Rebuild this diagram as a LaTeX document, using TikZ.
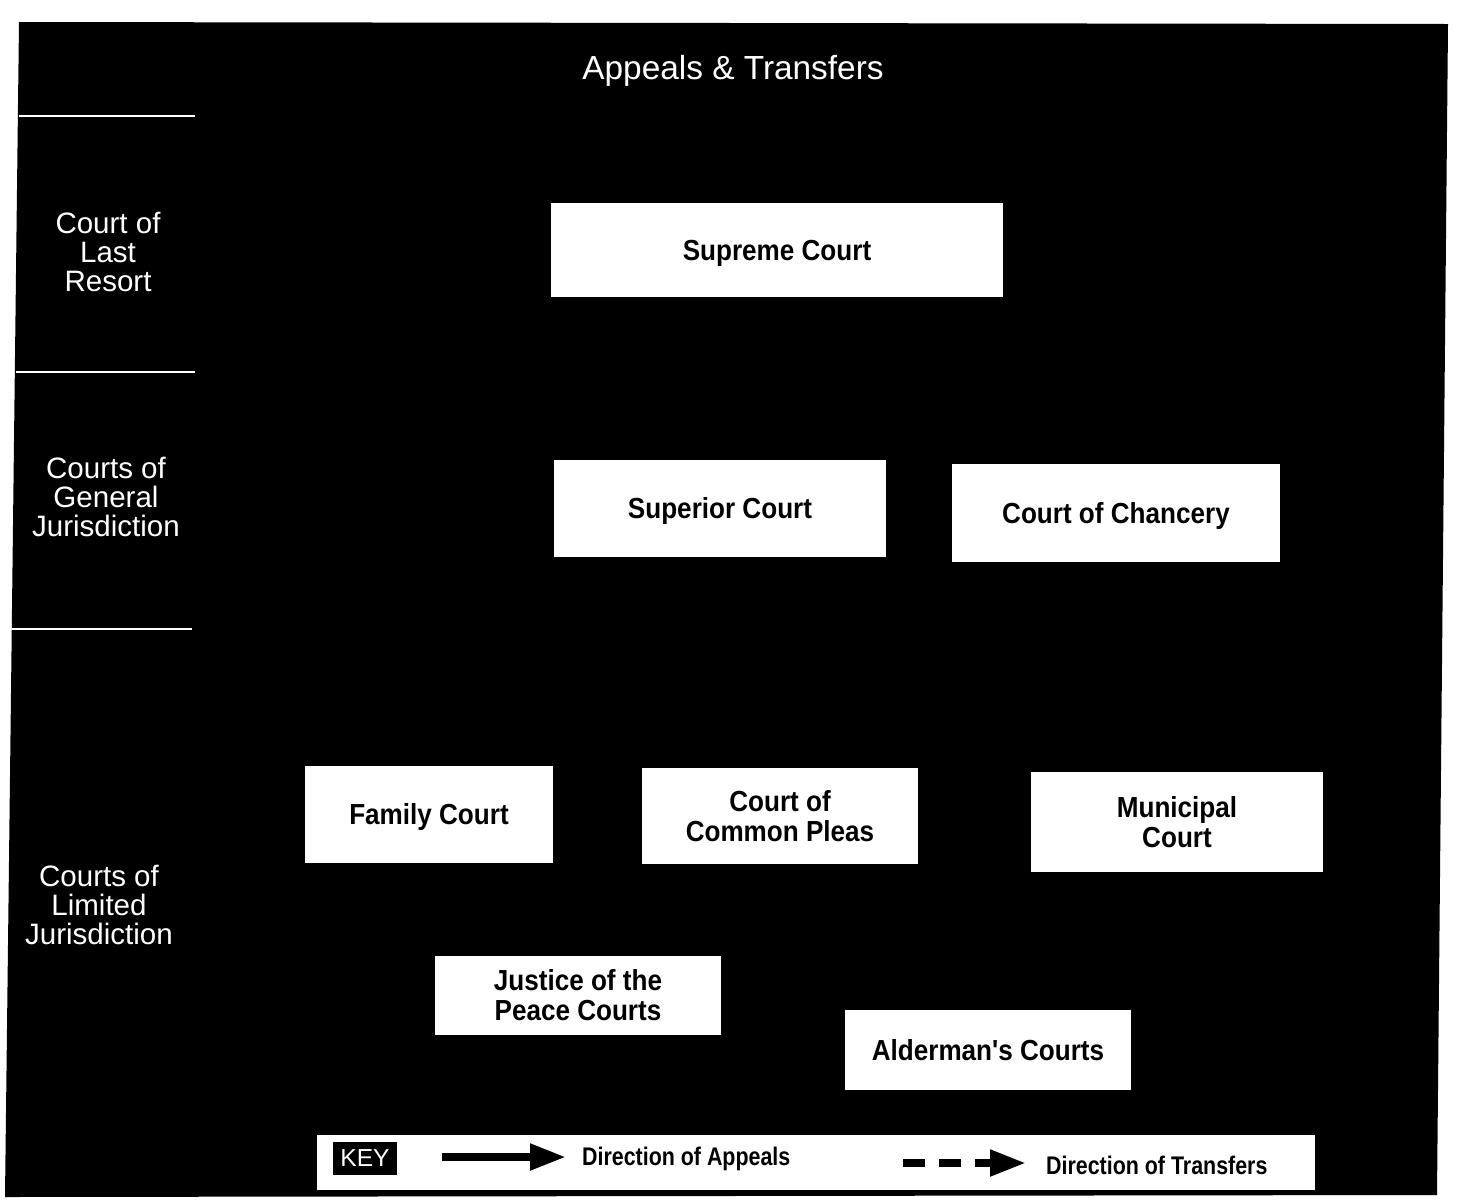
\documentclass[tikz,border=0pt]{standalone}
\usepackage{fontspec}
\setmainfont{Liberation Sans}
\newfontfamily\courtfont[FakeStretch=0.9]{Liberation Sans}
\newfontfamily\keyfont[FakeStretch=0.84]{Liberation Sans}
\usetikzlibrary{arrows.meta, positioning, calc}

\tikzset{
  court/.style={fill=white, rectangle, inner sep=2pt, align=center,
    font=\courtfont\fontsize{16.5}{17}\selectfont\bfseries},
  oneline/.style={text depth=0pt},
  tier/.style={text=white, align=center, font=\fontsize{16.8}{16.5}\selectfont},
  keytext/.style={anchor=west, font=\keyfont\fontsize{14.5}{16}\selectfont\bfseries}
}

\begin{document}
\begin{tikzpicture}[x=0.02cm, y=-0.02cm]
    \useasboundingbox (0,0) rectangle (1457,1201);
    % Background
    \fill[black] (19,22) -- (1448,24) -- (1437,1195) -- (5,1197) -- cycle;

    % Title
    \node[text=white, font=\fontsize{19}{21}\selectfont] (title) at (733,71) {Appeals \& Transfers};

    % Tier labels
    \node[tier] (lastresort) at (108,252) {Court of\\Last\\Resort};
    \node[tier] (general) at (106,497) {Courts of\\General\\Jurisdiction};
    \node[tier] (limited) at (99,905) {Courts of\\Limited\\Jurisdiction};
    \draw[white, line width=1.2pt] (19,116) -- (195,116);
    \draw[white, line width=1.2pt] (16,372) -- (195,372);
    \draw[white, line width=1.2pt] (12,629) -- (192,629);

    % Last resort
    \node[court, oneline, minimum width=9.06cm, minimum height=1.9cm] (supreme) at (777,250) {Supreme Court};

    % General jurisdiction
    \node[court, oneline, minimum width=6.66cm, minimum height=1.94cm] (superior) at (720,508) {Superior Court};
    \node[court, oneline, minimum width=6.58cm, minimum height=1.96cm] (chancery) at (1116,513) {Court of Chancery};

    % Limited jurisdiction
    \node[court, oneline, minimum width=4.96cm, minimum height=1.94cm] (family) at (429,814) {Family Court};
    \node[court, minimum width=5.52cm, minimum height=1.92cm] (pleas) at (780,816) {Court of\\Common Pleas};
    \node[court, minimum width=5.84cm, minimum height=2cm] (municipal) at (1177,822) {Municipal\\Court};
    \node[court, minimum width=5.74cm, minimum height=1.58cm] (peace) at (578,995) {Justice of the\\Peace Courts};
    \node[court, oneline, minimum width=5.74cm, minimum height=1.6cm] (alderman) at (988,1050) {Alderman's Courts};

    % Key
    \node[fill=white, minimum width=19.96cm, minimum height=1.1cm, inner sep=0pt] (keybar) at (816,1162) {};
    \node[fill=black, text=white, minimum width=1.3cm, minimum height=0.66cm, inner sep=0pt,
      font=\fontsize{14}{16}\selectfont] (keylabel) at (365,1158) {KEY};
    \coordinate (appealA) at (442,1157);
    \coordinate (appealB) at (566,1157);
    \draw[line width=4.5pt, -{Triangle[length=0.72cm, width=0.5cm]}] (appealA) -- (appealB);
    \node[keytext] (appeals) at (576,1159) {Direction of Appeals};
    \coordinate (transA) at (903,1163);
    \coordinate (transB) at (1026,1163);
    \draw[line width=4.5pt, dash pattern=on 0.44cm off 0.28cm, -{Triangle[length=0.72cm, width=0.5cm]}] (transA) -- (transB);
    \node[keytext] (transfers) at (1040,1165) {Direction of Transfers};
\end{tikzpicture}
\end{document}
